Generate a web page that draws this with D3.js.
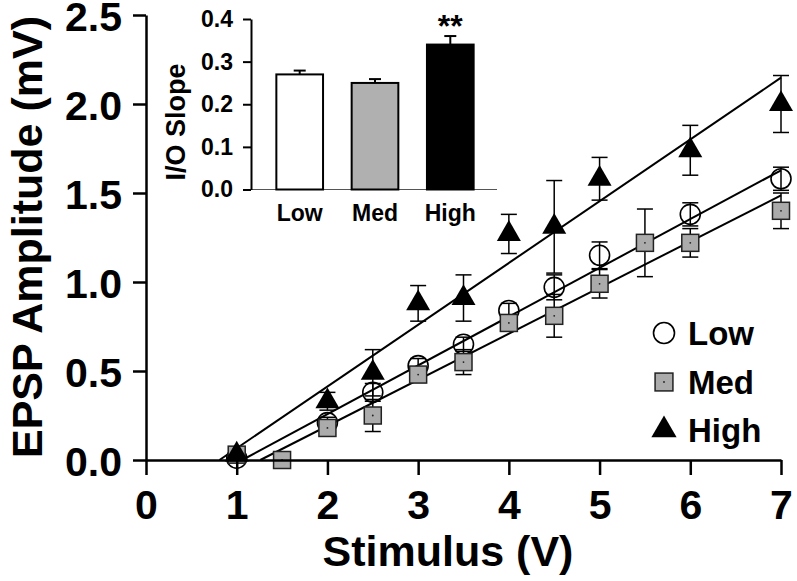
<!DOCTYPE html>
<html><head><meta charset="utf-8">
<script src="https://cdn.jsdelivr.net/npm/d3@7"></script>
<style>
body{margin:0;background:#fff}
svg{display:block}
text{font-family:"Liberation Sans",Arial,sans-serif;font-weight:bold;fill:#000}
</style>
</head><body><svg id="chart" width="797" height="581"></svg>
<script>
// ---- data ----
const xTicks=[0,1,2,3,4,5,6,7];
const yTicks=[0,0.5,1,1.5,2,2.5];
const lowX=[1,2,2.5,3,3.5,4,4.5,5,6,7];
const lowY=[0.01,0.21,0.38,0.53,0.65,0.84,0.97,1.15,1.38,1.58];
const lowErr=[0.02,0.03,0.05,0.04,0.04,0.04,0.07,0.075,0.065,0.065];
const medX=[1,1.5,2,2.5,3,3.5,4,4.5,5,5.5,6,7];
const medY=[0.03,0.0,0.18,0.25,0.48,0.55,0.77,0.81,0.99,1.22,1.22,1.40];
const medErr=[0.02,0.01,0.03,0.09,0.03,0.07,0.04,0.12,0.08,0.19,0.08,0.10];
const highX=[1,2,2.5,3,3.5,4,4.5,5,6,7];
const highY=[0.03,0.33,0.49,0.88,0.91,1.27,1.31,1.58,1.74,2.00];
const highErr=[0.02,0.05,0.13,0.10,0.13,0.11,0.26,0.12,0.14,0.16];
const seriesNames=["Low","Med","High"];
const fitSlope=[0.274,0.259,0.347];
const fitX0=[1.06,1.26,0.81];
const fitXEnd=[7,7,7];
const insetCats=["Low","Med","High"];
const insetSlope=[0.27,0.25,0.34];
const insetErr=[0.009,0.009,0.02];
const insetTicks=[0,0.1,0.2,0.3,0.4];
const sigLabels=["","","**"];

// ---- main chart ----
const svg=d3.select("#chart");
const x=d3.scaleLinear().domain([0,7]).range([146,781]);
const y=d3.scaleLinear().domain([0,2.5]).range([460,15]);

const series=[
  {name:"Low",xs:lowX,ys:lowY,es:lowErr},
  {name:"Med",xs:medX,ys:medY,es:medErr},
  {name:"High",xs:highX,ys:highY,es:highErr}
];

// fit lines
const gFit=svg.append("g");
seriesNames.forEach((n,i)=>{
  gFit.append("line")
    .attr("x1",x(fitX0[i])).attr("y1",y(0))
    .attr("x2",x(fitXEnd[i])).attr("y2",y(fitSlope[i]*(fitXEnd[i]-fitX0[i])))
    .attr("stroke","#000").attr("stroke-width",2);
});

// error bars
const capW=8;
const gErr=svg.append("g").attr("stroke","#000").attr("stroke-width",1.5);
series.forEach(s=>{
  s.xs.forEach((xv,i)=>{
    const cx=x(xv), top=y(s.ys[i]+s.es[i]), bot=y(s.ys[i]-s.es[i]);
    gErr.append("line").attr("x1",cx).attr("x2",cx).attr("y1",top).attr("y2",bot);
    gErr.append("line").attr("x1",cx-capW).attr("x2",cx+capW).attr("y1",top).attr("y2",top);
    gErr.append("line").attr("x1",cx-capW).attr("x2",cx+capW).attr("y1",bot).attr("y2",bot);
  });
});

function drawMarker(g,name,cx,cy,scale){
  scale=scale||1;
  if(name==="Low"){
    g.append("circle").attr("cx",cx).attr("cy",cy).attr("r",10*scale)
      .attr("fill","none").attr("stroke","#000").attr("stroke-width",1.6);
  } else if(name==="Med"){
    const s=17*scale;
    g.append("rect").attr("x",cx-s/2).attr("y",cy-s/2).attr("width",s).attr("height",s)
      .attr("fill","#ababab").attr("stroke","#222").attr("stroke-width",1.5);
    g.append("circle").attr("cx",cx).attr("cy",cy).attr("r",0.9).attr("fill","#222");
  } else {
    g.append("path").attr("transform",`translate(${cx},${cy})`)
      .attr("d",d3.symbol().type(d3.symbolTriangle).size(250*scale*scale)())
      .attr("fill","#000");
  }
}
const gPts=svg.append("g");
series.forEach(s=>{
  s.xs.forEach((xv,i)=>drawMarker(gPts,s.name,x(xv),y(s.ys[i])));
});

// axes
const xAxis=svg.append("g").attr("transform","translate(0,460)")
  .call(d3.axisBottom(x).tickValues(xTicks).tickSize(15).tickSizeOuter(0).tickPadding(15).tickFormat(d3.format("d")));
const yAxis=svg.append("g").attr("transform","translate(146,0)")
  .call(d3.axisLeft(y).tickValues(yTicks).tickSize(13).tickSizeOuter(0).tickPadding(11).tickFormat(d3.format(".1f")));
[xAxis,yAxis].forEach(a=>{
  a.selectAll("path,line").attr("stroke","#000").attr("stroke-width",2.5);
  a.selectAll("text").style("font-size","41px").attr("fill","#000");
});
yAxis.selectAll("text").attr("dy","0.38em");

svg.append("text").attr("x",448).attr("y",566).attr("text-anchor","middle")
  .style("font-size","43px").text("Stimulus (V)");
svg.append("text").attr("transform","translate(42,237) rotate(-90)").attr("text-anchor","middle")
  .style("font-size","43px").text("EPSP Amplitude (mV)");

// legend
const legY=[333,382,430];
const gLeg=svg.append("g");
seriesNames.forEach((n,i)=>{
  drawMarker(gLeg,n,664,legY[i],1.05);
  gLeg.append("text").attr("x",688).attr("y",legY[i]+12).style("font-size","33px").text(n);
});

// ---- inset ----
const yI=d3.scaleLinear().domain([0,0.4]).range([189.5,19]);
const xI=d3.scaleBand().domain(insetCats).range([250,500]).paddingInner(0.38).paddingOuter(0.35);
const gI=svg.append("g");
gI.append("line").attr("x1",250).attr("x2",497).attr("y1",yI(0)).attr("y2",yI(0))
  .attr("stroke","#555").attr("stroke-width",1.2);
const barFill=["#fff","#b0b0b0","#000"];
insetCats.forEach((c,i)=>{
  const bx=xI(c), bw=xI.bandwidth(), cx=bx+bw/2;
  gI.append("line").attr("x1",cx).attr("x2",cx).attr("y1",yI(insetSlope[i])).attr("y2",yI(insetSlope[i]+insetErr[i]))
    .attr("stroke","#000").attr("stroke-width",2);
  gI.append("line").attr("x1",cx-6).attr("x2",cx+6).attr("y1",yI(insetSlope[i]+insetErr[i])).attr("y2",yI(insetSlope[i]+insetErr[i]))
    .attr("stroke","#000").attr("stroke-width",2);
  gI.append("rect").attr("x",bx).attr("y",yI(insetSlope[i])).attr("width",bw)
    .attr("height",yI(0)-yI(insetSlope[i])).attr("fill",barFill[i]).attr("stroke","#000").attr("stroke-width",2);
  gI.append("text").attr("x",cx).attr("y",221).attr("text-anchor","middle").style("font-size","23px").text(c);
  if(sigLabels[i]) gI.append("text").attr("x",cx).attr("y",37).attr("text-anchor","middle").style("font-size","32px").text(sigLabels[i]);
});
const yIAxis=gI.append("g").attr("transform","translate(251,0)")
  .call(d3.axisLeft(yI).tickValues(insetTicks).tickSize(8).tickSizeOuter(0).tickPadding(10).tickFormat(d3.format(".1f")));
yIAxis.selectAll("path,line").attr("stroke","#000").attr("stroke-width",2);
yIAxis.selectAll("text").style("font-size","23px").attr("fill","#000");
gI.append("text").attr("transform","translate(185,122) rotate(-90)").attr("text-anchor","middle")
  .style("font-size","27px").text("I/O Slope");
</script>
</body></html>
